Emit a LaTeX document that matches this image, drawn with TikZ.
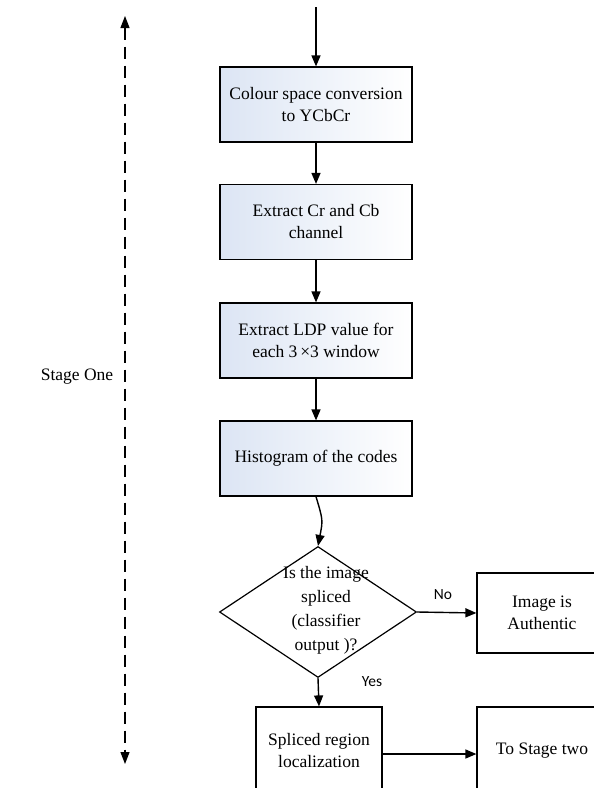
\documentclass[tikz,border=0pt]{standalone}
\usepackage{fontspec}
\setmainfont{Liberation Serif}
\newfontfamily\labelfont{Carlito}
\usetikzlibrary{shapes.geometric,arrows.meta}
\definecolor{boxblue}{RGB}{220,229,244}
\begin{document}
\begin{tikzpicture}[x=1pt,y=-1pt,
  txt/.style={font=\fontsize{17.5}{22}\selectfont, align=center},
  proc/.style={txt, draw, line width=1.2pt, minimum width=192pt, minimum height=75pt, inner sep=0pt,
    left color=boxblue, right color=white},
  plainbox/.style={txt, draw, line width=1.2pt, fill=white, inner sep=0pt},
  arr/.style={line width=1.4pt, -{Triangle[length=11pt,width=9pt]}},
  dasharr/.style={line width=1.2pt, dash pattern=on 12pt off 7pt, {Triangle[length=12pt,width=9pt]}-{Triangle[length=12pt,width=9pt]}},
  lbl/.style={font=\labelfont\fontsize{15.5}{17}\selectfont}]
\useasboundingbox (0,0) rectangle (594,788);
\clip (0,0) rectangle (594,788);
\fill[white] (0,0) rectangle (594,788);

\coordinate (start) at (316,7);
\node[proc] (b1) at (316,104.5) {Colour space conversion\\to YCbCr};
\node[proc] (b2) at (316,222) {Extract Cr and Cb\\channel};
\node[proc] (b3) at (316,340.5) {Extract LDP value for\\each 3\,×3 window};
\node[proc] (b4) at (316,458.5) {Histogram of the codes};

\node[draw, diamond, line width=1.2pt, minimum width=197pt, minimum height=131pt, inner sep=0pt] (d) at (318,612) {};
\node[txt, font=\fontsize{17.5}{24}\selectfont] (dt) at (326,610) {Is the image\\spliced\\(classifier\\output )?};

\node[plainbox, minimum width=130pt, minimum height=80pt] (auth) at (542,613) {Image is\\Authentic};
\node[plainbox, minimum width=126pt, minimum height=88pt] (spl) at (319,751) {Spliced region\\localization};
\node[plainbox, minimum width=130pt, minimum height=88pt] (st2) at (542,751) {To Stage two};

\draw[arr] (start) -- (b1.north);
\draw[arr] (b1) -- (b2);
\draw[arr] (b2) -- (b3);
\draw[arr] (b3) -- (b4);
\draw[arr] (b4.south) .. controls (323,520) .. (d.north);
\draw[arr] (d.east) -- (auth.west);
\draw[arr] (d.south) -- (spl.north);
\draw[arr] ([yshift=-3pt]spl.east) -- ([yshift=-3pt]st2.west);

\node[lbl] (no) at (443,595) {No};
\node[lbl] (yes) at (372,682) {Yes};

\coordinate (dtop) at (125,16);
\coordinate (dbot) at (125,764);
\draw[dasharr] (dtop) -- (dbot);
\node[txt] (stage) at (77,377) {Stage One};
\end{tikzpicture}
\end{document}
